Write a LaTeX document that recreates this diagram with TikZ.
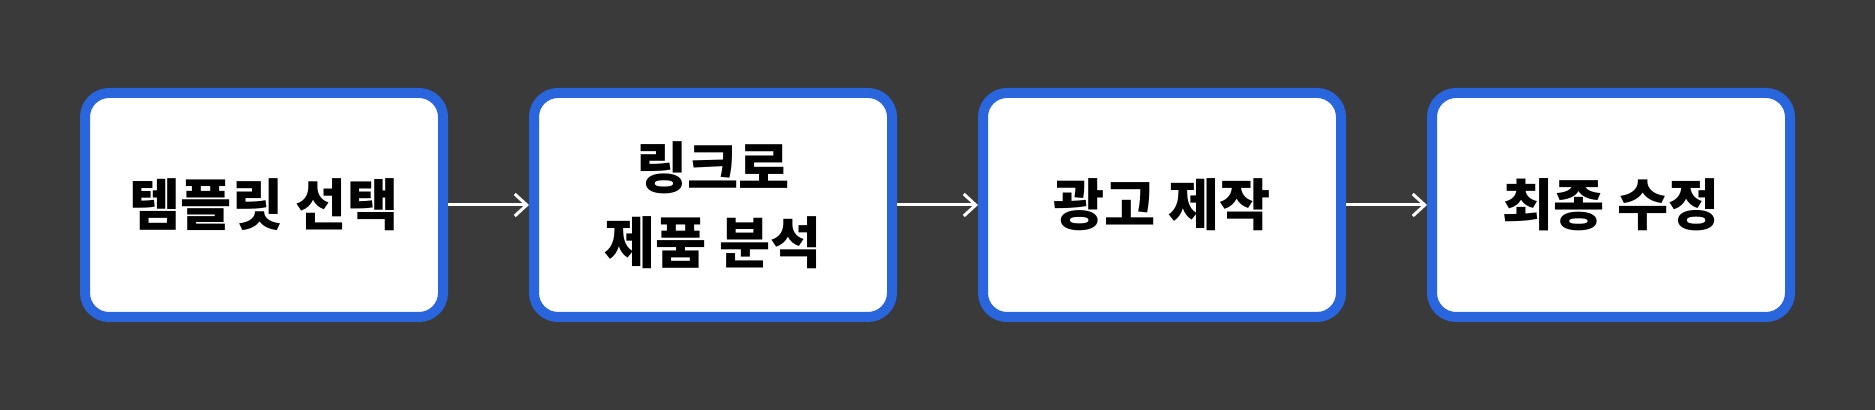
\documentclass[tikz,border=0pt]{standalone}
\usepackage{fontspec}
\newfontfamily\kr{Noto Sans CJK KR}
\usetikzlibrary{arrows.meta}
\definecolor{bg}{HTML}{3A3A3A}
\definecolor{bl}{HTML}{2966DD}
\tikzset{
  stepbox/.style={draw=bl, fill=white, line width=5pt, rounded corners=12pt,
    minimum width=179pt, minimum height=112pt, inner sep=0pt, align=center,
    font=\kr\bfseries\fontsize{27.8pt}{37.5pt}\selectfont},
  conn/.style={draw=white, line width=1.5pt, -{Straight Barb[length=6pt,width=11pt,line width=1.5pt]}}
}
\begin{document}
\begin{tikzpicture}[x=0.5pt,y=-0.5pt]
\fill[bg] (0,0) rectangle (1875,410);
\useasboundingbox (0,0) rectangle (1875,410);
\node[stepbox] (b1) at (264,205) {템플릿 선택};
\node[stepbox] (b2) at (713,205) {링크로\\제품 분석};
\node[stepbox] (b3) at (1162,205) {광고 제작};
\node[stepbox] (b4) at (1611,205) {최종 수정};
\draw[conn] (b1.east) -- (b2.west);
\draw[conn] (b2.east) -- (b3.west);
\draw[conn] (b3.east) -- (b4.west);
\end{tikzpicture}
\end{document}
